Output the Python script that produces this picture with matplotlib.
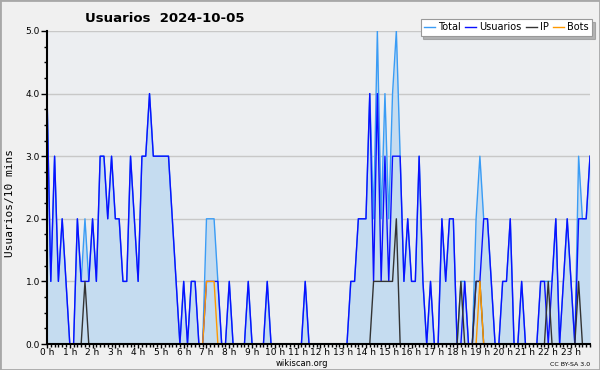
import matplotlib
matplotlib.use('Agg')
import matplotlib.pyplot as plt
import numpy as np
from matplotlib.ticker import MultipleLocator, FixedLocator, FormatStrFormatter
from matplotlib.patches import Rectangle

# one value every 10 minutes, 12 values per row = 2 hours
usuarios = [4, 1, 3, 1, 2, 1, 0, 0, 2, 1, 1, 1,
            2, 1, 3, 3, 2, 3, 2, 2, 1, 1, 3, 2,
            1, 3, 3, 4, 3, 3, 3, 3, 3, 2, 1, 0,
            1, 0, 1, 1, 0, 0, 1, 1, 1, 1, 0, 0,
            1, 0, 0, 0, 0, 1, 0, 0, 0, 0, 1, 0,
            0, 0, 0, 0, 0, 0, 0, 0, 1, 0, 0, 0,
            0, 0, 0, 0, 0, 0, 0, 0, 1, 1, 2, 2,
            2, 4, 1, 4, 1, 3, 1, 3, 3, 3, 1, 2,
            1, 1, 3, 1, 0, 1, 0, 0, 2, 1, 2, 2,
            0, 0, 1, 0, 0, 1, 1, 2, 2, 1, 0, 0,
            1, 1, 2, 0, 0, 1, 0, 0, 0, 0, 1, 1,
            0, 1, 2, 0, 1, 2, 1, 0, 2, 2, 2, 3]

ip = [0, 0, 0, 0, 0, 0, 0, 0, 0, 0, 1, 0,
      0, 0, 0, 0, 0, 0, 0, 0, 0, 0, 0, 0,
      0, 0, 0, 0, 0, 0, 0, 0, 0, 0, 0, 0,
      0, 0, 0, 0, 0, 0, 0, 0, 0, 0, 0, 0,
      0, 0, 0, 0, 0, 0, 0, 0, 0, 0, 0, 0,
      0, 0, 0, 0, 0, 0, 0, 0, 0, 0, 0, 0,
      0, 0, 0, 0, 0, 0, 0, 0, 0, 0, 0, 0,
      0, 0, 1, 1, 1, 1, 1, 1, 2, 0, 0, 0,
      0, 0, 0, 0, 0, 0, 0, 0, 0, 0, 0, 0,
      0, 1, 0, 0, 0, 1, 1, 0, 0, 0, 0, 0,
      0, 0, 0, 0, 0, 0, 0, 0, 0, 0, 0, 0,
      1, 0, 0, 0, 0, 0, 0, 0, 1, 0, 0, 0]

bots = [0, 0, 0, 0, 0, 0, 0, 0, 0, 0, 0, 0,
        0, 0, 0, 0, 0, 0, 0, 0, 0, 0, 0, 0,
        0, 0, 0, 0, 0, 0, 0, 0, 0, 0, 0, 0,
        0, 0, 0, 0, 0, 0, 1, 1, 1, 0, 0, 0,
        0, 0, 0, 0, 0, 0, 0, 0, 0, 0, 0, 0,
        0, 0, 0, 0, 0, 0, 0, 0, 0, 0, 0, 0,
        0, 0, 0, 0, 0, 0, 0, 0, 0, 0, 0, 0,
        0, 0, 0, 0, 0, 0, 0, 0, 0, 0, 0, 0,
        0, 0, 0, 0, 0, 0, 0, 0, 0, 0, 0, 0,
        0, 0, 0, 0, 0, 0, 1, 0, 0, 0, 0, 0,
        0, 0, 0, 0, 0, 0, 0, 0, 0, 0, 0, 0,
        0, 0, 0, 0, 0, 0, 0, 0, 0, 0, 0, 0]

total = [4, 1, 3, 1, 2, 1, 0, 0, 2, 1, 2, 1,
         2, 1, 3, 3, 2, 3, 2, 2, 1, 1, 3, 2,
         1, 3, 3, 4, 3, 3, 3, 3, 3, 2, 1, 0,
         1, 0, 1, 1, 0, 0, 2, 2, 2, 1, 0, 0,
         1, 0, 0, 0, 0, 1, 0, 0, 0, 0, 1, 0,
         0, 0, 0, 0, 0, 0, 0, 0, 1, 0, 0, 0,
         0, 0, 0, 0, 0, 0, 0, 0, 1, 1, 2, 2,
         2, 4, 2, 5, 2, 4, 2, 4, 5, 3, 1, 2,
         1, 1, 3, 1, 0, 1, 0, 0, 2, 1, 2, 2,
         0, 1, 1, 0, 0, 2, 3, 2, 2, 1, 0, 0,
         1, 1, 2, 0, 0, 1, 0, 0, 0, 0, 1, 1,
         1, 1, 2, 0, 1, 2, 1, 0, 3, 2, 2, 3]

hours = np.arange(len(total)) / 6.0
hour_labels = [str(h) + ' h' for h in range(24)]

fig = plt.figure(figsize=(6, 3.7), dpi=100, facecolor='#f0f0f0')
ax = fig.add_axes([47 / 600, 1 - 344 / 370, 543 / 600, 313 / 370])
ax.set_facecolor('#eceef1')

ax.fill_between(hours, total, 0, color='#c5dcf0', lw=0, zorder=1)
ax.plot(hours, total, color='#3a9cf5', lw=1.0, label='Total', zorder=2)
ax.plot(hours, usuarios, color='#0a10ff', lw=1.0, label='Usuarios', zorder=2.1)
ax.plot(hours, ip, color='#333333', lw=1.0, label='IP', zorder=2.2)
ax.plot(hours, bots, color='#ff9900', lw=1.0, label='Bots', zorder=2.3)

ax.set_xlim(0, hours[-1])
ax.set_ylim(0, 5)
ax.yaxis.set_major_locator(MultipleLocator(1))
ax.yaxis.set_minor_locator(MultipleLocator(0.25))
ax.yaxis.set_major_formatter(FormatStrFormatter('%.1f'))
ax.xaxis.set_major_locator(FixedLocator(range(24)))
ax.set_xticklabels(hour_labels)
ax.xaxis.set_minor_locator(MultipleLocator(1 / 6))
ax.tick_params(axis='y', which='major', labelsize=6.5, length=4, width=1, pad=1)
ax.tick_params(axis='x', which='major', labelsize=6.5, length=3, width=1, pad=0)
ax.tick_params(axis='y', which='minor', length=2.5, width=1)
ax.tick_params(axis='x', which='minor', length=2.5, width=1)
ax.grid(axis='y', color='#c8c8c8', lw=1, zorder=0.5)
ax.set_axisbelow(True)
for s in ['top', 'right']:
    ax.spines[s].set_visible(False)
for s in ['left', 'bottom']:
    ax.spines[s].set_linewidth(1.5)
    ax.spines[s].set_zorder(5)

fig.text(85 / 600, 1 - 18 / 370, 'Usuarios  2024-10-05', fontsize=9.5, fontweight='bold',
         va='center', ha='left')
fig.text(10 / 600, 1 - 203 / 370, 'Usuarios/10 mins', rotation=90, fontsize=8,
         family='DejaVu Sans Mono', va='center', ha='center')
fig.text(302 / 600, 1 - 364 / 370, 'wikiscan.org', fontsize=6, ha='center', va='center')
fig.text(590 / 600, 1 - 364 / 370, 'CC BY-SA 3.0', fontsize=4.5, ha='right', va='center')

leg = fig.legend(loc='upper right', bbox_to_anchor=(592 / 600, 1 - 19 / 370), ncol=4,
                 fontsize=7, frameon=True, fancybox=False, shadow={'color': '#777777'},
                 framealpha=1, edgecolor='#999999', handlelength=1.1, handletextpad=0.3,
                 columnspacing=0.5, borderpad=0.35, borderaxespad=0)
leg.get_frame().set_linewidth(0.8)

fig.add_artist(Rectangle((0, 0), 1, 1, transform=fig.transFigure, fill=False,
                         edgecolor='#a8a8a8', lw=2))

fig.savefig('out.png', dpi=100, facecolor=fig.get_facecolor())
